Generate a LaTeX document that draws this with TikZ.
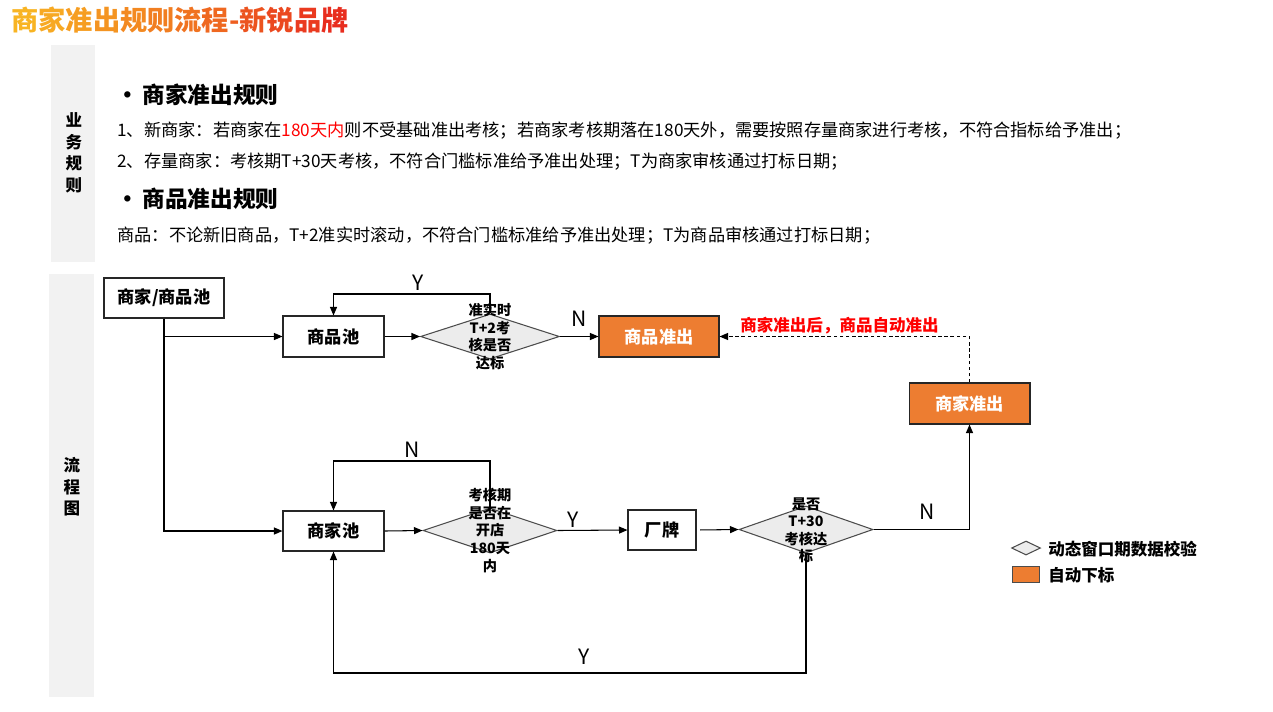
\documentclass[tikz,border=0pt]{standalone}
\usepackage{fontspec}
\setmainfont{Noto Sans CJK SC}
\usepackage{xcolor}
\usetikzlibrary{arrows.meta,positioning,shapes.geometric}
\definecolor{rbgray}{RGB}{242,242,242}
\definecolor{rborange}{RGB}{237,125,49}
\definecolor{rbred}{RGB}{255,0,0}
\definecolor{rbdia}{RGB}{236,236,236}
\definecolor{ttlA}{RGB}{248,180,35}
\definecolor{ttlB}{RGB}{232,45,30}

\begin{document}
\begin{tikzpicture}[
  x=0.02cm, y=-0.02cm,
  txt/.style={anchor=west, inner sep=0pt, font=\fontsize{9.8}{12}\selectfont},
  head/.style={anchor=west, inner sep=0pt, font=\fontsize{12.9}{15}\selectfont\bfseries},
  side/.style={align=center, inner sep=0pt, font=\fontsize{9.4}{12.3}\selectfont\bfseries},
  box/.style={draw=black!85, rectangle, minimum width=2.02cm, minimum height=0.82cm, align=center, line width=0.6pt, font=\fontsize{9.8}{12}\selectfont\bfseries},
  obox/.style={box, fill=rborange, text=white, minimum width=2.4cm},
  dia/.style={draw=black!70, diamond, fill=rbdia, minimum width=2.72cm, minimum height=0.9cm, inner sep=0pt, line width=0.6pt},
  diatext/.style={align=center, inner sep=0pt, font=\fontsize{8.1}{10}\selectfont\bfseries},
  yn/.style={font=\fontsize{12}{14}\selectfont, inner sep=1.5pt},
  >={Triangle[length=1.7mm, width=1.4mm]},
  arrline/.style={->, line width=0.6pt},
]
\useasboundingbox (0,0) rectangle (1273,711);

% ============ Title ============
\node[anchor=west, inner sep=0pt, font=\fontsize{15.5}{18}\selectfont\bfseries] (title) at (11,20)
  {\textcolor{ttlB!0!ttlA}{商}\textcolor{ttlB!8!ttlA}{家}\textcolor{ttlB!16!ttlA}{准}\textcolor{ttlB!24!ttlA}{出}%
   \textcolor{ttlB!32!ttlA}{规}\textcolor{ttlB!40!ttlA}{则}\textcolor{ttlB!48!ttlA}{流}\textcolor{ttlB!56!ttlA}{程}%
   \textcolor{ttlB!64!ttlA}{-}\textcolor{ttlB!72!ttlA}{新}\textcolor{ttlB!80!ttlA}{锐}\textcolor{ttlB!90!ttlA}{品}\textcolor{ttlB!100!ttlA}{牌}};

% ============ Side bands ============
\fill[rbgray] (51,45) rectangle (95,262);
\fill[rbgray] (49,274) rectangle (94,697);
\node[side] (siderule) at (74,153) {业\\务\\规\\则};
\node[side] (sideflow) at (72,487) {流\\程\\图};

% ============ Rules text ============
\node[head] (headm) at (116,95) {•\hspace{2pt}商家准出规则};
\node[txt] (rule1) at (117,131) {1、新商家：若商家在\textcolor{rbred}{180天内}则不受基础准出考核；若商家考核期落在180天外，需要按照存量商家进行考核，不符合指标给予准出；};
\node[txt] (rule2) at (117,162) {2、存量商家：考核期T+30天考核，不符合门槛标准给予准出处理；T为商家审核通过打标日期；};
\node[head] (headg) at (116,199) {•\hspace{2pt}商品准出规则};
\node[txt] (rule3) at (117,236) {商品：不论新旧商品，T+2准实时滚动，不符合门槛标准给予准出处理；T为商品审核通过打标日期；};

% ============ Flow boxes ============
\node[box, minimum width=2.4cm, minimum height=0.8cm] (pool) at (164,298) {商家/商品池};
\node[box] (gpool) at (333.5,336.5) {商品池};
\node[obox] (gout) at (659,336.5) {商品准出};
\node[obox, minimum width=2.42cm] (mout) at (969.5,403.5) {商家准出};
\node[box, minimum height=0.8cm] (mpool) at (333.5,531) {商家池};
\node[box, minimum width=1.36cm, minimum height=0.8cm] (brand) at (662,530) {厂牌};

% ============ Diamonds ============
\node[dia, minimum width=2.78cm] (d1) at (490,336.5) {};
\node[diatext] (d1t) at (d1) {准实时\\T+2考\\核是否\\达标};
\node[dia, minimum width=2.68cm] (d2) at (490,530.5) {};
\node[diatext] (d2t) at (d2) {考核期\\是否在\\开店\\180天\\内};
\node[dia, minimum width=2.68cm, minimum height=0.94cm] (d3) at (806,529.5) {};
\node[diatext] (d3t) at ([yshift=-0.5pt]d3) {是否\\T+30\\考核达\\标};

% ============ Helper coordinates ============
\coordinate (gloop) at (0,294);
\coordinate (mloop) at (0,461);
\coordinate (yloop) at (0,673);

% ===================== ARROWS =====================
% pool fans out to both pools
\draw[arrline] (pool.south) |- (gpool.west);
\draw[arrline] (pool.south) |- (mpool.west);

% goods branch
\draw[arrline] (gpool.east) -- (d1.west);
\draw[arrline] (d1.north) -- (d1.north |- gloop) -| node[pos=0.23, above, yn] {Y} (gpool.north);
\draw[arrline] (d1.east) -- node[pos=0.5, above=4pt, yn] {N} (gout.west);

% merchant exit forces goods exit (dashed)
\draw[arrline, dash pattern=on 2pt off 1.5pt] (mout.north) |- node[pos=0.76, above, inner sep=1pt, text=rbred, font=\fontsize{9.4}{11}\selectfont\bfseries] {商家准出后，商品自动准出} (gout.east);

% merchant branch
\draw[arrline] (mpool.east) -- (d2.west);
\draw[arrline] (d2.north) -- (d2.north |- mloop) -| node[pos=0.25, above, yn] {N} (mpool.north);
\draw[arrline] (d2.east) -- node[pos=0.22, above, yn] {Y} (brand.west);
\draw[arrline, shorten <=2pt] (brand.east) -- (d3.west);
\draw[arrline] (d3.east) -| node[pos=0.28, above=4pt, yn] {N} (mout.south);
\draw[arrline] (d3.south) -- (d3.south |- yloop) -| node[pos=0.235, above=3pt, yn] {Y} (mpool.south);

% ===================== LEGEND =====================
\node[dia, minimum width=0.58cm, minimum height=0.28cm] (legdia) at (1026,548) {};
\node[anchor=west, inner sep=0pt, font=\fontsize{9.4}{11}\selectfont\bfseries] (legdiat) at (1048,549) {动态窗口期数据校验};
\node[draw=black!70, fill=rborange, minimum width=0.54cm, minimum height=0.32cm, inner sep=0pt] (legbox) at (1025.5,574) {};
\node[anchor=west, inner sep=0pt, font=\fontsize{9.4}{11}\selectfont\bfseries] (legboxt) at (1048,575) {自动下标};

\end{tikzpicture}
\end{document}
